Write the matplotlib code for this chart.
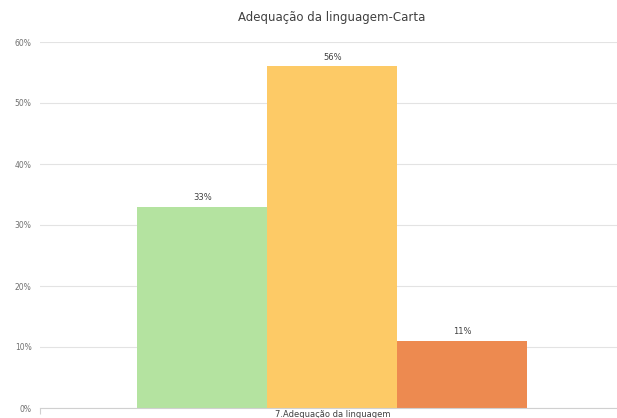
import matplotlib
matplotlib.use("Agg")
import matplotlib.pyplot as plt
from matplotlib.ticker import FuncFormatter

title = "Adequação da linguagem-Carta"
category = "7.Adequação da linguagem"
values = [0.33, 0.56, 0.11]
labels = ["33%", "56%", "11%"]
colors = ["#B4E3A0", "#FDCA66", "#ED8A50"]
yticks = [0, 0.1, 0.2, 0.3, 0.4, 0.5, 0.6]

fig = plt.figure(figsize=(6.17, 4.18), dpi=100)
ax = fig.add_axes([40/617, 10/418, 577/617, 366/418])

positions = [-1, 0, 1]
for p, v, c, lab in zip(positions, values, colors, labels):
    ax.bar(p, v, width=1.0, color=c, zorder=2)
    ax.text(p, v + 0.008, lab, ha="center", va="bottom", fontsize=6, color="#404040")

ax.set_ylim(0, 0.6)
ax.set_xlim(-2.25, 2.19)
ax.set_yticks(yticks)
ax.yaxis.set_major_formatter(FuncFormatter(lambda v, _: f"{v*100:.0f}%"))
ax.grid(axis="y", color="#E3E3E3", linewidth=0.8, zorder=0)
for s in ["top", "right", "left"]:
    ax.spines[s].set_visible(False)
ax.spines["bottom"].set_color("#D0D0D0")
ax.tick_params(axis="y", length=0, labelsize=5.5, labelcolor="#707070", pad=6)
ax.set_xticks([-2.25])
ax.set_xticklabels([""])
ax.tick_params(axis="x", length=4, color="#D0D0D0", direction="out")
ax.text(0, -0.004, category, ha="center", va="top", fontsize=6, color="#404040",
        transform=ax.transData, clip_on=False)
fig.text(332/617, 1 - 18/418, title, ha="center", va="center", fontsize=8.5, color="#404040")

fig.savefig("out.png", dpi=100, facecolor="white")
